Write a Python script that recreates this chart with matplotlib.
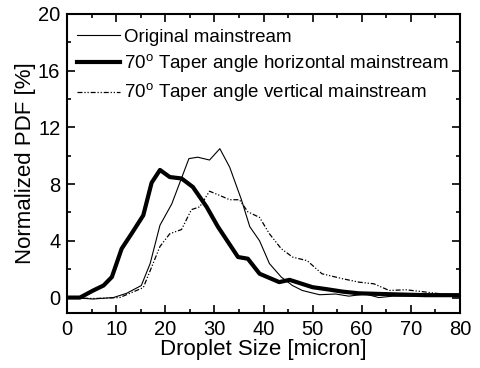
import numpy as np
import matplotlib.pyplot as plt

plt.rcParams['font.family'] = ['Liberation Sans', 'DejaVu Sans']

# Original mainstream (thin)
x_orig = [0.6, 5.3, 9.4, 12.1, 15.1, 16.9, 18.9, 21.3, 24.8, 26.6, 29.0, 31.1, 33.1,
          35.5, 37.2, 39.2, 41.2, 43.6, 45.9, 47.9, 51.4, 54.7, 57.4, 60.8, 63.5, 66.3, 73.0, 80.0]
y_orig = [0.0, -0.1, 0.0, 0.3, 0.85, 2.4, 5.1, 6.6, 9.8, 9.9, 9.7, 10.5, 9.2,
          6.9, 5.0, 4.0, 2.4, 1.45, 0.85, 0.5, 0.2, 0.25, 0.1, 0.25, 0.0, 0.1, 0.1, 0.17]

# 70 deg taper, horizontal mainstream (thick)
x_hor = [0.6, 2.6, 5.3, 7.4, 9.1, 11.1, 13.1, 15.5, 17.2, 18.9, 20.9, 23.3, 25.6, 28.4,
         30.7, 34.8, 36.8, 39.2, 43.2, 45.3, 50.0, 52.7, 56.1, 59.4, 66.3, 73.0, 80.0]
y_hor = [0.0, 0.0, 0.5, 0.85, 1.45, 3.45, 4.5, 5.8, 8.1, 9.0, 8.5, 8.4, 7.8, 6.4,
         5.0, 2.86, 2.74, 1.68, 1.09, 1.25, 0.73, 0.6, 0.42, 0.3, 0.23, 0.17, 0.17]

# 70 deg taper, vertical mainstream (dash-dot)
x_ver = [0.6, 5.3, 10.7, 15.5, 18.9, 20.9, 23.3, 25.3, 27.0, 29.0, 31.1, 33.1, 35.1, 36.8,
         39.2, 41.2, 43.6, 45.9, 48.9, 51.9, 56.1, 59.4, 62.5, 65.6, 69.0, 72.3, 76.4, 80.0]
y_ver = [0.0, -0.07, 0.0, 0.7, 3.6, 4.5, 4.8, 6.2, 6.4, 7.5, 7.2, 6.9, 6.9, 6.05,
         5.65, 4.5, 3.45, 2.86, 2.6, 1.68, 1.33, 1.09, 0.97, 0.5, 0.55, 0.42, 0.25, 0.17]

fig = plt.figure(figsize=(4.8, 3.68), dpi=100)
ax = fig.add_axes([0.14, 0.149, 0.818, 0.813])

ax.plot(x_orig, y_orig, 'k-', lw=0.8, label='Original mainstream')
ax.plot(x_hor, y_hor, 'k-', lw=3, label=r'70$^\mathregular{o}$ Taper angle horizontal mainstream')
ax.plot(x_ver, y_ver, color='k', lw=0.9, ls=(0, (4, 1.5, 1, 1.5, 1, 1.5)),
        label=r'70$^\mathregular{o}$ Taper angle vertical mainstream')

ax.set_xlim(0, 80)
ax.set_ylim(-1.1, 20)
ax.set_xticks(np.arange(0, 81, 10))
ax.set_xticks(np.arange(0, 81, 5), minor=True)
ax.set_yticks(np.arange(0, 21, 4))
ax.set_yticks(np.arange(0, 21, 2), minor=True)
ax.tick_params(which='both', direction='in', top=True, right=True, labelsize=14.5, width=1.2)
ax.tick_params(which='major', length=6, pad=5)
ax.tick_params(which='minor', length=3)
for s in ax.spines.values():
    s.set_linewidth(1.5)

ax.set_xlabel('Droplet Size [micron]', fontsize=16, labelpad=0)
ax.set_ylabel('Normalized PDF [%]', fontsize=16, labelpad=1)

ax.legend(loc='upper left', bbox_to_anchor=(0, 0.983), frameon=False, fontsize=13.5,
          handlelength=2.3, handletextpad=0.25, labelspacing=0.36, borderaxespad=0.1)

fig.savefig('out.png')
